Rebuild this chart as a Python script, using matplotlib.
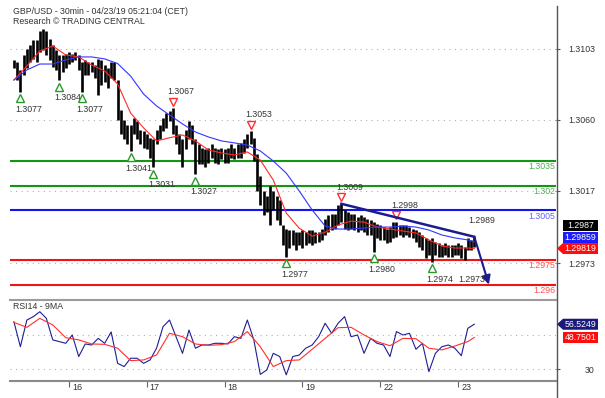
import numpy as np
import matplotlib.pyplot as plt
import matplotlib.transforms as mtransforms
from matplotlib.lines import Line2D
from matplotlib.patches import Polygon

plt.rcParams['font.family'] = ['Liberation Sans', 'DejaVu Sans']

# prices are kept in pips above this base
BASE = 1.29

# hourly bars, hour 0 = Apr 16 00:00 CET, weekend skipped
bar_hours = np.arange(-17, 126)
bar_high = [196, 195, 190, 199, 203, 205, 208, 208, 214, 215, 214, 209, 205, 202, 199, 199, 200,
            201, 200, 201, 199, 195, 196, 195, 195, 193, 197, 196, 193, 191, 195, 195, 184, 166,
            160, 157, 157, 161, 159, 154, 153, 151, 149, 148, 154, 157, 161, 164, 165, 167, 157,
            151, 148, 154, 159, 157, 148, 145, 143, 142, 143, 145, 143, 142, 143, 142, 143, 145,
            143, 145, 146, 148, 151, 153, 149, 139, 126, 117, 114, 120, 117, 114, 111, 96, 94,
            93, 93, 92, 92, 93, 92, 93, 93, 92, 92, 94, 100, 102, 103, 103, 108, 109, 105, 104,
            103, 103, 101, 102, 101, 100, 99, 98, 97, 96, 95, 94, 95, 98, 98, 96, 96, 96, 95,
            94, 93, 92, 90, 88, 87, 88, 86, 85, 84, 85, 84, 84, 84, 85, 84, 83, 88, 87, 89]
bar_low = [191, 184, 177, 187, 191, 195, 197, 195, 201, 202, 199, 196, 192, 190, 184, 189, 191,
           194, 195, 196, 190, 177, 187, 187, 189, 185, 175, 181, 183, 179, 185, 184, 160, 151,
           148, 145, 141, 151, 148, 145, 143, 142, 137, 131, 145, 148, 153, 155, 159, 151, 145,
           139, 131, 142, 148, 145, 127, 133, 133, 131, 134, 137, 134, 133, 136, 134, 134, 137,
           136, 137, 137, 140, 143, 145, 135, 117, 108, 102, 104, 96, 105, 99, 96, 84, 77,
           82, 84, 81, 84, 82, 84, 85, 84, 85, 86, 87, 90, 92, 93, 94, 96, 98, 94, 93,
           94, 93, 92, 93, 92, 90, 90, 80, 88, 87, 87, 85, 86, 88, 89, 90, 89, 90, 89,
           88, 86, 83, 81, 76, 78, 74, 78, 77, 77, 78, 77, 77, 78, 78, 76, 75, 81, 81, 83]
last_close = 1.2987

# moving averages, read every 4 hours plus the last bar
ma_hours = list(range(-17, 124, 4)) + [125]
ma_red = [184.0, 192.5, 201.6, 204.6, 199.2, 198.0, 193.1, 189.5, 181.6, 164.0, 155.0, 147.1,
          149.0, 150.7, 147.1, 141.6, 139.8, 138.6, 140.4, 135.5, 123.4, 103.4, 94.2, 89.4,
          91.8, 96.1, 98.5, 97.9, 94.9, 93.7, 92.5, 91.3, 87.1, 83.4, 82.2, 82.2, 81.9]
ma_blue = [184.0, 190.1, 193.7, 193.7, 196.2, 198.0, 198.0, 196.8, 194.0, 186.4, 175.5, 168.3,
           162.8, 157.4, 152.5, 149.5, 147.1, 145.9, 144.6, 141.0, 134.9, 127.6, 116.8, 105.2,
           95.5, 93.7, 93.7, 94.3, 94.9, 94.9, 95.5, 94.9, 93.1, 90.1, 88.3, 87.1, 85.9]

# RSI14 every 2 hours, its 9MA every 4 hours
rsi_hours = np.arange(-17, 126, 2)
rsi = [58.0, 43.3, 59.0, 61.0, 63.9, 60.0, 47.3, 46.3, 45.3, 50.2, 37.5, 44.9, 44.3, 48.2,
       45.3, 52.0, 33.5, 31.6, 36.5, 36.5, 33.5, 35.5, 42.4, 55.1, 59.0, 49.2, 39.4, 53.1,
       42.4, 44.3, 44.3, 45.3, 45.3, 44.9, 49.2, 48.2, 59.0, 47.3, 27.0, 29.6, 39.4, 37.5,
       26.7, 37.5, 38.4, 42.4, 44.3, 49.2, 57.1, 51.2, 57.1, 61.0, 49.2, 50.2, 39.4, 48.2,
       45.3, 44.3, 37.5, 52.2, 50.2, 51.2, 41.8, 45.3, 28.6, 39.4, 43.3, 44.3, 42.4, 38.0,
       54.1, 56.5249]
rsi_ma = [57.6, 54.7, 60.0, 56.1, 48.6, 47.3, 44.9, 44.7, 42.4, 35.1, 35.5, 38.4, 51.2, 49.2,
          44.9, 44.1, 44.5, 46.3, 52.2, 43.3, 31.6, 35.1, 35.5, 41.8, 48.2, 54.5, 54.7, 50.2,
          46.3, 43.9, 48.2, 48.0, 42.4, 41.4, 43.7, 46.3, 48.7501]

# pivots
low_hours = [-15, -3, 4, 19, 26, 39, 67, 94, 112]
low_pips = [177, 184, 177, 141, 131, 127, 77, 80, 74]
high_hours = [32, 56, 84, 101]
high_pips = [167, 153, 109, 98]

# support / resistance levels
level_pips = [135, 120, 105, 75, 60]
level_text = ['1.3035', '1.302', '1.3005', '1.2975', '1.296']

# trend line and projection
trend_hours = [84, 125]
trend_prices = [1.3009, 1.2989]
target_hour, target_price = 129.5, 1.2960
target_text = '1.2973'

day_hours = [0, 24, 48, 72, 96, 120]
day_labels = ['16', '17', '18', '19', '22', '23']

price_ticks = [1.3103, 1.3060, 1.3017, 1.2973]

W, H, DPI = 605, 398, 100
fig = plt.figure(figsize=(W / DPI, H / DPI), dpi=DPI)


def px_rect(x0, y0, x1, y1):
    return [x0 / W, 1 - y1 / H, (x1 - x0) / W, (y1 - y0) / H]


def shift(axis, dx, dy):
    # offset in pixels, dy positive = down
    return axis.transData + mtransforms.ScaledTranslation(dx / DPI, -dy / DPI, fig.dpi_scale_trans)


ax = fig.add_axes(px_rect(10, 0, 556, 299))
axr = fig.add_axes(px_rect(10, 300, 556, 381))

for a in (ax, axr):
    a.set_xlim(-18.2, 150.2)
    for s in ('left', 'right', 'top', 'bottom'):
        a.spines[s].set_visible(False)
ax.set_ylim(BASE + 51.3e-4, BASE + 232.5e-4)
axr.set_ylim(23.1, 70.8)
axr.spines['top'].set_visible(True)
axr.spines['top'].set_color('#9c9c9c')
axr.spines['top'].set_linewidth(1.5)
axr.spines['bottom'].set_visible(True)
axr.spines['bottom'].set_color('#8a8a8a')
axr.spines['bottom'].set_linewidth(1.5)

grid_kw = dict(color='#b0b0b0', lw=0.8, ls=(0, (1, 4)), zorder=0)
for p in price_ticks:
    ax.axhline(p, **grid_kw)
for r in (30, 50):
    axr.axhline(r, **grid_kw)

# y ticks on the right, right-aligned labels
ax.yaxis.tick_right()
ax.set_yticks(price_ticks)
ax.set_yticklabels(['%.4f' % p for p in price_ticks])
axr.yaxis.tick_right()
axr.set_yticks([30])
axr.set_yticklabels(['30'])
for a in (ax, axr):
    a.tick_params(axis='y', length=3, width=0.8, color='#555555', pad=25,
                  labelsize=6.3, labelcolor='#333333')
    for lab in a.get_yticklabels():
        lab.set_horizontalalignment('right')
ax.set_xticks([])
axr.set_xticks(day_hours)
axr.set_xticklabels([])
axr.tick_params(axis='x', direction='out', length=4, width=0.8, color='#666666')
for h, d in zip(day_hours, day_labels):
    axr.text(h, 0, d, transform=mtransforms.blended_transform_factory(axr.transData, axr.transAxes)
             + mtransforms.ScaledTranslation(3 / DPI, -6 / DPI, fig.dpi_scale_trans),
             ha='left', va='center', fontsize=6.5, color='#333333')

# levels
level_colors = ['#149614', '#149614', '#1414f0', '#f01414', '#f01414']
label_colors = ['#4fae4f', '#4fae4f', '#6464ff', '#ff5050', '#ff5050']
for lp, lt, lc, tc in zip(level_pips, level_text, level_colors, label_colors):
    price = BASE + lp / 1e4
    ax.axhline(price, color=lc, lw=1.5, zorder=2)
    ax.text(1, price, lt, transform=mtransforms.blended_transform_factory(ax.transAxes, ax.transData)
            + mtransforms.ScaledTranslation(-1 / DPI, -6 / DPI, fig.dpi_scale_trans),
            ha='right', va='center', fontsize=6.3, color=tc, zorder=3)

# price bars
highs = BASE + np.array(bar_high) / 1e4
lows = BASE + np.array(bar_low) / 1e4
ax.vlines(bar_hours, lows, highs, color='black', lw=1.9, zorder=4)

ax.plot(ma_hours, BASE + np.array(ma_red) / 1e4, color='#ff2a2a', lw=0.8, zorder=5)
ax.plot(ma_hours, BASE + np.array(ma_blue) / 1e4, color='#3434ff', lw=0.8, zorder=5)

# pivot markers
for h, p in zip(low_hours, low_pips):
    price = BASE + p / 1e4
    ax.plot([h], [price], marker='^', ms=5.5, mfc='white', mec='#2a9a2a', mew=1,
            transform=shift(ax, 0, 6.5), zorder=6)
    ax.text(h, price, '%.4f' % price, transform=shift(ax, 8, 17.5), ha='center', va='center',
            fontsize=6.3, color='#333333', zorder=6)
for h, p in zip(high_hours, high_pips):
    price = BASE + p / 1e4
    ax.plot([h], [price], marker='v', ms=5.5, mfc='white', mec='#ff3030', mew=1,
            transform=shift(ax, 0, -6.5), zorder=6)
    ax.text(h, price, '%.4f' % price, transform=shift(ax, 8, -16.5), ha='center', va='center',
            fontsize=6.3, color='#333333', zorder=6)

# trend line and target arrow
navy = '#1c1c8e'
ax.plot(trend_hours, trend_prices, color=navy, lw=1.8, zorder=7)
ax.annotate('', xy=(target_hour, target_price), xytext=(trend_hours[1], trend_prices[1]),
            arrowprops=dict(arrowstyle='-|>', color=navy, lw=1.5, mutation_scale=13,
                            shrinkA=0, shrinkB=0), zorder=7)
ax.text(trend_hours[1], trend_prices[1], '%.4f' % trend_prices[1], transform=shift(ax, 7, -16),
        ha='center', va='center', fontsize=6.3, color='#333333', zorder=7)
ax.text(target_hour, target_price, target_text, transform=shift(ax, -17, -5),
        ha='center', va='center', fontsize=6.3, color='#333333', zorder=7)

# RSI
axr.plot(rsi_hours, rsi, color='#1e1e96', lw=0.8)
axr.plot(ma_hours, rsi_ma, color='#ff3030', lw=0.8)

# headers
ax.text(13 / W, 1 - 12 / H, 'GBP/USD - 30min - 04/23/19 05:21:04 (CET)', transform=fig.transFigure,
        ha='left', va='center', fontsize=6.3, color='#333333')
ax.text(13 / W, 1 - 22 / H, 'Research \u00a9 TRADING CENTRAL', transform=fig.transFigure,
        ha='left', va='center', fontsize=6.3, color='#333333')
axr.text(13 / W, 1 - 306.5 / H, 'RSI14 - 9MA', transform=fig.transFigure,
         ha='left', va='center', fontsize=6.3, color='#333333')

# right axis line
fig.add_artist(Line2D([556.5 / W] * 2, [1 - 6 / H, 0], color='#555555', lw=1))


def value_box(y, text, color, pointer):
    yt, yb = y - 5.5, y + 5.5
    pts = [(563, yt), (598, yt), (598, yb), (563, yb)]
    if pointer:
        pts.append((557, y))
    poly = Polygon([(x / W, 1 - yy / H) for x, yy in pts], closed=True, transform=fig.transFigure,
                   facecolor=color, edgecolor='none', zorder=10)
    fig.add_artist(poly)
    fig.text(580.5 / W, 1 - y / H, text, ha='center', va='center', fontsize=6.3, color='white',
             zorder=11)


def to_px(axis, val):
    return H - axis.transData.transform((0, val))[1]


boxes = [(to_px(ax, BASE + ma_red[-1] / 1e4), '%.5f' % (BASE + ma_red[-1] / 1e4), '#ff0c0c', True),
         (to_px(ax, BASE + ma_blue[-1] / 1e4), '%.5f' % (BASE + ma_blue[-1] / 1e4), '#1c1cff', False),
         (to_px(ax, last_close), '%.4f' % last_close, '#000000', False)]
boxes.sort(key=lambda b: -b[0])
prev = None
for y, t, c, ptr in boxes:
    if prev is not None:
        y = min(y, prev - 11.5)
    value_box(y, t, c, ptr)
    prev = y

value_box(to_px(axr, rsi[-1]), '%.4f' % rsi[-1], '#1a1a7a', True)
value_box(to_px(axr, rsi_ma[-1]), '%.4f' % rsi_ma[-1], '#ff0c0c', False)

fig.savefig('out.png', dpi=DPI)
